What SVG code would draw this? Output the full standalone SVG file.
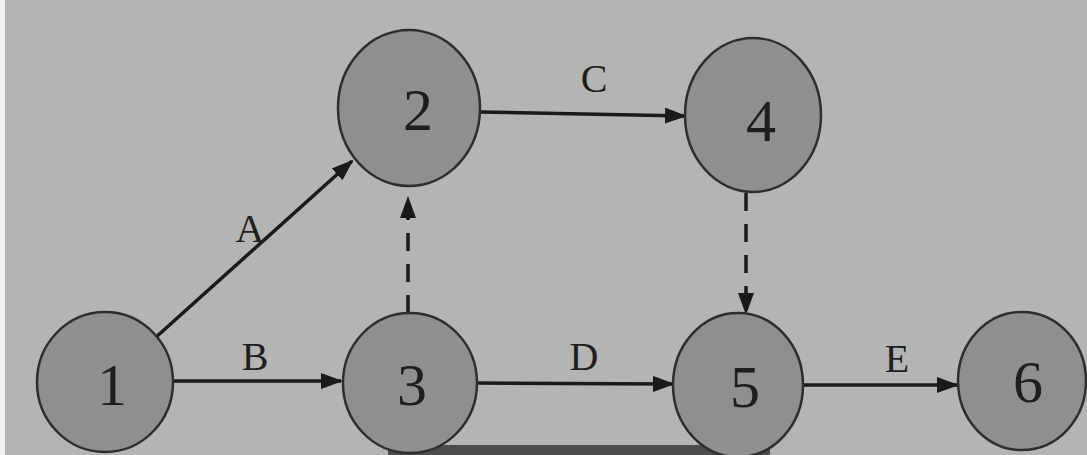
<svg xmlns="http://www.w3.org/2000/svg" width="1087" height="455" viewBox="0 0 1087 455">
<style>
.node{fill:#8f8f8f;stroke:#2e2e2e;stroke-width:2.5}
.num{font-family:"Liberation Serif",serif;font-size:60px;fill:#1e1e1e;text-anchor:middle;dominant-baseline:central}
.lab{font-family:"Liberation Serif",serif;font-size:40px;fill:#1e1e1e;text-anchor:middle}
.edge{stroke:#1a1a1a;stroke-width:3.5;fill:none}
.dash{stroke:#1a1a1a;stroke-width:3.5;fill:none;stroke-dasharray:18 13}
</style>
<defs>
<marker id="ah" markerWidth="22" markerHeight="16" refX="20" refY="8" orient="auto" markerUnits="userSpaceOnUse">
<path d="M0,0 L22,8 L0,16 z" fill="#1a1a1a"/>
</marker>
</defs>
<rect x="0" y="0" width="1087" height="455" fill="#b4b4b2"/>
<rect x="0" y="0" width="5" height="455" fill="#f2f2f2"/>
<rect x="388" y="445" width="382" height="10" fill="#4c4c4c"/>
<g id="connectors">
<line class="edge" x1="155" y1="338" x2="352" y2="161" marker-end="url(#ah)"/>
<line class="edge" x1="173" y1="381" x2="341" y2="381" marker-end="url(#ah)"/>
<line class="edge" x1="480" y1="112" x2="685" y2="116" marker-end="url(#ah)"/>
<line class="edge" x1="477" y1="383" x2="673" y2="384" marker-end="url(#ah)"/>
<line class="edge" x1="803" y1="385" x2="957" y2="385" marker-end="url(#ah)"/>
<line class="dash" x1="408" y1="313" x2="408" y2="198" marker-end="url(#ah)"/>
<line class="dash" x1="746" y1="193" x2="746" y2="313" marker-end="url(#ah)"/>
<text class="lab" x="250" y="242">A</text>
<text class="lab" x="255" y="370">B</text>
<text class="lab" x="594" y="92">C</text>
<text class="lab" x="584" y="370">D</text>
<text class="lab" x="897" y="372">E</text>
</g>
<g id="n1"><ellipse class="node" cx="105" cy="382" rx="68" ry="70"/><text class="num" x="112" y="385">1</text></g>
<g id="n2"><ellipse class="node" cx="409" cy="108" rx="71" ry="78"/><text class="num" x="418" y="110">2</text></g>
<g id="n3"><ellipse class="node" cx="410" cy="383" rx="67" ry="70"/><text class="num" x="412" y="385">3</text></g>
<g id="n4"><ellipse class="node" cx="753" cy="115" rx="68" ry="77"/><text class="num" x="761" y="121">4</text></g>
<g id="n5"><ellipse class="node" cx="738" cy="385" rx="65" ry="72"/><text class="num" x="745" y="387">5</text></g>
<g id="n6"><ellipse class="node" cx="1022" cy="381" rx="64" ry="69"/><text class="num" x="1028" y="382">6</text></g>
</svg>
